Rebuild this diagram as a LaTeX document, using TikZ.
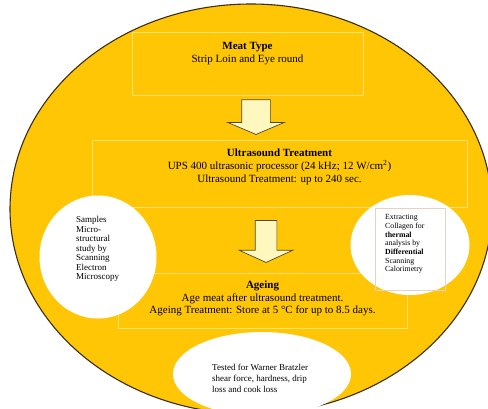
\documentclass[tikz,border=0pt]{standalone}
\usepackage{fontspec}
\setmainfont{Liberation Serif}
\usepackage{tikz}
\usetikzlibrary{shapes,arrows,positioning}

\definecolor{discyellow}{RGB}{255,198,6}
\definecolor{discline}{RGB}{60,45,15}
\definecolor{boxline}{RGB}{255,226,110}
\definecolor{arrowfill}{RGB}{255,248,190}
\definecolor{arrowline}{RGB}{80,70,40}
\definecolor{calline}{RGB}{230,210,200}

\begin{document}
\begin{tikzpicture}[x=1pt, y=-1pt,
        disc/.style={ellipse, draw=discline, line width=1.1pt, fill=discyellow, inner sep=0pt},
        stagebox/.style={rectangle, draw=boxline, line width=0.8pt, inner sep=0pt},
        stagetext/.style={align=center, inner sep=0pt, font=\fontsize{11}{12.6}\selectfont},
        spot/.style={ellipse, fill=white, inner sep=0pt},
        note/.style={align=left, inner sep=0pt, anchor=west},
        blockarrow/.style={single arrow, draw=arrowline, fill=arrowfill, line width=0.7pt, shape border rotate=270}]

        \clip (0,0) rectangle (488,408);
        \node[disc, minimum width=482pt, minimum height=410pt] (dish) at (251,209) {};

        \node[stagebox, minimum width=231pt, minimum height=63pt] (meat) at (247.5,63.5) {};
        \node[stagetext, below=10.5pt of meat.north] (meatText) {\textbf{Meat Type}\\Strip Loin and Eye round};

        \node[stagebox, minimum width=375pt, minimum height=67pt] (ultra) at (279.5,173.5) {};
        \node[stagetext, below=9.5pt of ultra.north] (ultraText) {\textbf{Ultrasound Treatment}\\UPS 400 ultrasonic processor (24 kHz; 12 W/cm\textsuperscript{2})\\Ultrasound Treatment: up to 240 sec.};

        \node[stagebox, minimum width=289pt, minimum height=55pt] (ageing) at (262.5,300.5) {};
        \node[stagetext, below=8pt of ageing.north] (ageingText) {\textbf{Ageing}\\Age meat after ultrasound treatment.\\Ageing Treatment: Store at 5 °C for up to 8.5 days.};

        \node[blockarrow, minimum height=31pt, minimum width=56pt, inner sep=14pt, single arrow head extend=14pt, single arrow tip angle=134] (toUltra) at (256,114) {};
        \node[blockarrow, minimum height=42pt, minimum width=53pt, inner sep=10.5pt, single arrow head extend=16pt, single arrow tip angle=131] (toAgeing) at (266,239) {};

        \node[spot, minimum width=117pt, minimum height=123pt] (sem) at (98,257) {};
        \node[note, font=\fontsize{9}{9.5}\selectfont] (semText) at (76,249) {Samples\\Micro-\\structural\\study by\\Scanning\\Electron\\Microscopy};

        \node[spot, minimum width=119pt, minimum height=100pt] (dsc) at (410,245) {};
        \node[rectangle, draw=calline, line width=0.6pt, minimum width=70pt, minimum height=82pt] (dscBox) at (410,249) {};
        \node[note, font=\fontsize{7.8}{8.7}\selectfont] (dscText) at (385,244) {Extracting\\Collagen for\\\textbf{thermal}\\analysis by\\\textbf{Differential}\\Scanning\\Calorimetry};

        \node[spot, minimum width=178pt, minimum height=84pt] (wbs) at (262,374) {};
        \node[note, font=\fontsize{9}{11}\selectfont] (wbsText) at (212,378) {Tested for Warner Bratzler\\shear force, hardness, drip\\loss and cook loss};
    \end{tikzpicture}
\end{document}
